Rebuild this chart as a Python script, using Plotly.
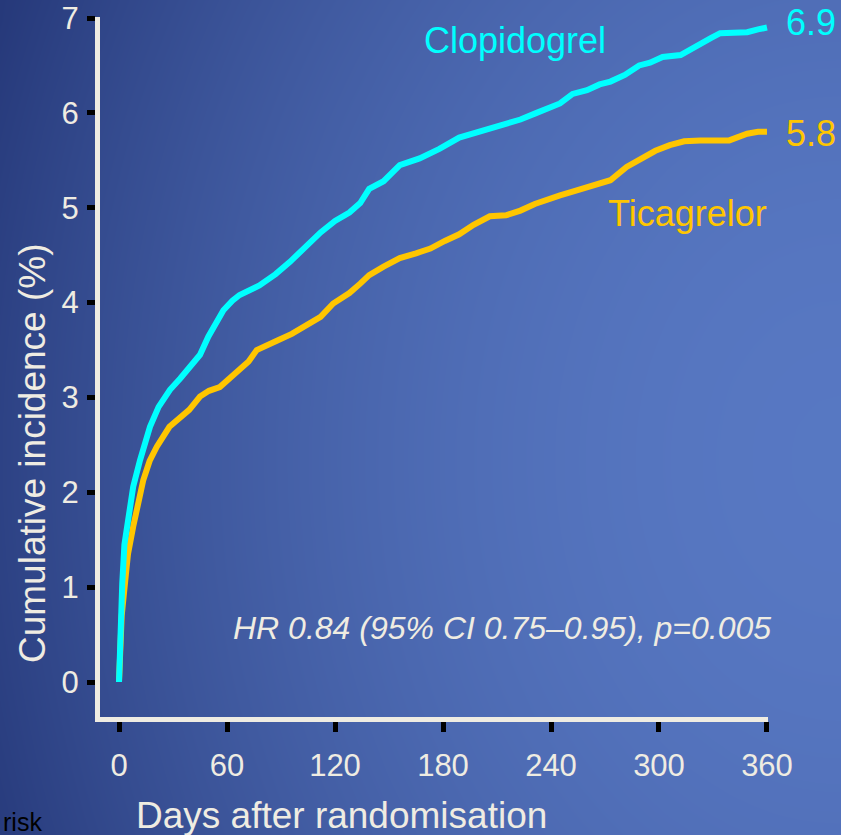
import numpy as np
import plotly.graph_objects as go

W, H = 841, 835

# Kaplan-Meier style cumulative incidence (%), read at days after randomisation
clop_days = [0, 0.5, 1, 1.8, 3, 5.2, 7.9, 11.7, 17.2, 22, 28.3, 34, 39.4, 45, 49.6, 54, 58,
             63, 67, 78, 87, 95, 104, 112, 120, 128, 134, 139, 147, 156, 167, 178, 189, 200,
             206, 215, 223, 232, 239, 245, 252, 260, 267, 273, 281, 289, 295, 302, 312, 318,
             323, 329, 334, 340, 349, 355, 360]
clop_vals = [0, 0.45, 0.75, 1.04, 1.45, 1.78, 2.06, 2.34, 2.69, 2.9, 3.08, 3.2, 3.32, 3.45,
             3.64, 3.8, 3.92, 4.02, 4.08, 4.18, 4.3, 4.43, 4.6, 4.74, 4.86, 4.95, 5.05, 5.2,
             5.28, 5.45, 5.52, 5.62, 5.74, 5.8, 5.84, 5.88, 5.93, 6.0, 6.06, 6.1, 6.2, 6.24,
             6.3, 6.33, 6.4, 6.5, 6.53, 6.59, 6.61, 6.68, 6.73, 6.79, 6.84, 6.84, 6.85, 6.88, 6.9]

tica_days = [0, 0.5, 1.5, 3.3, 5, 7.9, 10.5, 13.5, 17, 21, 28, 33, 39, 45, 50, 56, 60, 66,
             72, 76.5, 82, 88, 96, 104, 112, 119, 128, 134, 139, 147, 156, 165, 173, 181,
             189, 197, 206, 215, 223, 231, 239, 245, 252, 260, 267, 273, 282, 291, 298, 306,
             314, 323, 331, 339, 349, 355, 360]
tica_vals = [0, 0.4, 0.7, 1.04, 1.35, 1.64, 1.9, 2.13, 2.33, 2.48, 2.69, 2.78, 2.87, 3.01,
             3.07, 3.11, 3.18, 3.27, 3.38, 3.5, 3.54, 3.6, 3.67, 3.76, 3.85, 3.99, 4.1, 4.2,
             4.29, 4.38, 4.47, 4.52, 4.57, 4.65, 4.72, 4.82, 4.91, 4.92, 4.97, 5.04, 5.1,
             5.13, 5.17, 5.22, 5.26, 5.29, 5.43, 5.53, 5.6, 5.66, 5.7, 5.71, 5.71, 5.71,
             5.78, 5.8, 5.8]

x_ticks = [0, 60, 120, 180, 240, 300, 360]
y_ticks = [0, 1, 2, 3, 4, 5, 6, 7]

CYAN = "#00ffff"
GOLD = "#ffc600"
TEXT = "#efece2"
FONT = "Liberation Sans, Arial, sans-serif"


def px_x(p):
    return p / W


def px_y(p):
    return 1 - p / H


# Background: blue gradient, dark navy on the left brightening to the right
gx = np.linspace(0, W, 40)
gy = np.linspace(0, H, 40)
xf = gx / W
yf = gy / H
a = 0.14 + 0.81 * (1 - (1 - xf) ** 2)
v = 0.15 * ((yf - 0.55) / 0.55) ** 2
gz = np.clip(a[None, :] - v[:, None], 0, 1)

fig = go.Figure()
fig.add_trace(go.Heatmap(
    x=gx, y=gy, z=gz, zmin=0, zmax=1, zsmooth="best",
    colorscale=[[0, "#26397a"], [1, "#5a7bc6"]], showscale=False,
    hoverinfo="skip", xaxis="x", yaxis="y"))

fig.add_trace(go.Scatter(
    x=tica_days, y=tica_vals, mode="lines", line=dict(color=GOLD, width=6),
    xaxis="x2", yaxis="y2", showlegend=False))
fig.add_trace(go.Scatter(
    x=clop_days, y=clop_vals, mode="lines", line=dict(color=CYAN, width=6),
    xaxis="x2", yaxis="y2", showlegend=False))

axis_common = dict(showgrid=False, zeroline=False, showline=True, linecolor=TEXT,
                   linewidth=5, ticks="outside", tickcolor="black", tickwidth=5,
                   automargin=False,
                   tickfont=dict(family=FONT, size=31, color=TEXT))

fig.update_layout(
    template="none",
    width=W, height=H, autosize=False,
    margin=dict(l=0, r=0, t=0, b=0, pad=0),
    paper_bgcolor="#3a559c", plot_bgcolor="rgba(0,0,0,0)",
    xaxis=dict(domain=[0, 1], range=[0, W], visible=False, fixedrange=True,
               automargin=False),
    yaxis=dict(domain=[0, 1], range=[H, 0], visible=False, fixedrange=True,
               automargin=False),
    xaxis2=dict(domain=[px_x(100), px_x(768)], range=[-10.56, 360.56], anchor="y2",
                tickvals=x_ticks, ticklen=10, ticklabelstandoff=7, **axis_common),
    yaxis2=dict(domain=[px_y(717), px_y(17)], range=[-0.369, 7.011], anchor="x2",
                tickvals=y_ticks, ticklen=8, ticklabelstandoff=2, **axis_common),
    showlegend=False,
)

# Text placed in page-pixel coordinates of the full-page background axes
annotations = [
    dict(text="Days after randomisation", x=341, y=815, size=37,
         color=TEXT, xanchor="center"),
    dict(text="Cumulative incidence (%)", x=32, y=453, size=37,
         color=TEXT, xanchor="center", textangle=-90),
    dict(text="Clopidogrel", x=515, y=40, size=36, color=CYAN, xanchor="center"),
    dict(text="Ticagrelor", x=687, y=213, size=36, color=GOLD, xanchor="center"),
    dict(text="6.9", x=784, y=22, size=36, color=CYAN, xanchor="left"),
    dict(text="5.8", x=784, y=133, size=36, color=GOLD, xanchor="left"),
    dict(text="<i>HR 0.84 (95% CI 0.75–0.95), p=0.005</i>", x=773, y=628,
         size=32, color=TEXT, xanchor="right"),
    dict(text="risk", x=1, y=822, size=25, color="black", xanchor="left"),
]
for an in annotations:
    fig.add_annotation(
        text=an["text"], x=an["x"], y=an["y"], xref="x", yref="y",
        xanchor=an["xanchor"], yanchor="middle", showarrow=False,
        textangle=an.get("textangle", 0),
        font=dict(family=FONT, size=an["size"], color=an["color"]))

fig.write_html("out.html", config={"responsive": False})
